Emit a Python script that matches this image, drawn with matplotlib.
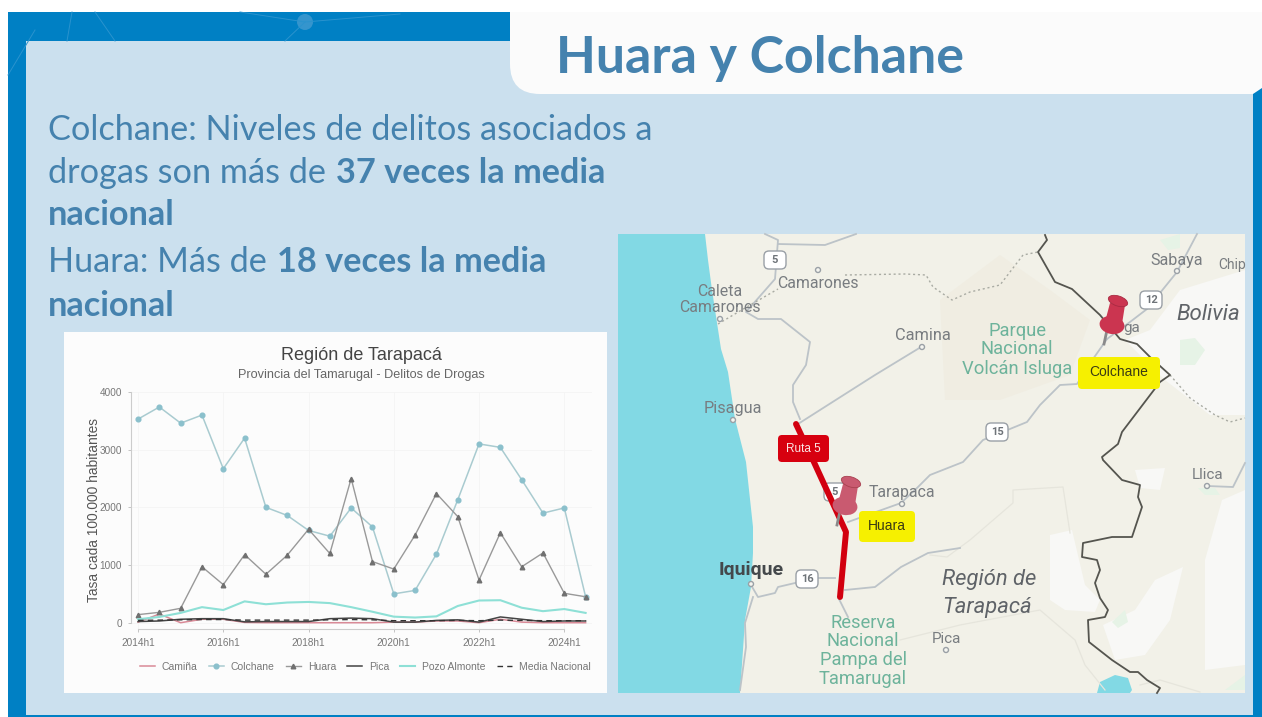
import numpy as np
import matplotlib
matplotlib.use("Agg")
import matplotlib.pyplot as plt
from matplotlib.patches import Rectangle, FancyBboxPatch, Polygon, Circle, Ellipse

# chart data (half years 2014h1 .. 2024h2)
periods = ["2014h1", "2014h2", "2015h1", "2015h2", "2016h1", "2016h2", "2017h1", "2017h2",
           "2018h1", "2018h2", "2019h1", "2019h2", "2020h1", "2020h2", "2021h1", "2021h2",
           "2022h1", "2022h2", "2023h1", "2023h2", "2024h1", "2024h2"]
tick_labels = ["2014h1", "2016h1", "2018h1", "2020h1", "2022h1", "2024h1"]
colchane = [3530, 3740, 3460, 3600, 2670, 3200, 2000, 1860, 1600, 1500, 1990,
            1660, 500, 560, 1190, 2130, 3100, 3040, 2480, 1900, 1990, 450]
huara = [140, 180, 250, 970, 660, 1180, 840, 1170, 1620, 1200, 2500,
         1060, 930, 1520, 2240, 1840, 740, 1560, 970, 1210, 510, 450]
pozo = [60, 100, 170, 270, 220, 370, 320, 350, 360, 340, 270,
        190, 105, 90, 110, 290, 385, 390, 260, 200, 237, 170]
pica = [20, 30, 60, 70, 70, 15, 20, 20, 20, 70, 80,
        70, 10, 10, 40, 50, 10, 100, 60, 20, 30, 30]
camina = [10, 150, 0, 60, 60, 5, 0, 0, 0, 0, 0, 0, 10, 10, 30, 30, 0, 60, 10, 0, 0, 0]
media = [40, 45, 50, 55, 55, 45, 45, 45, 45, 50, 55, 50, 35, 35, 35, 40, 35, 45, 40, 35, 35, 35]

# map shapes, in picture pixels
sea = [(618, 234), (705, 234), (708, 260), (712, 290), (721, 349), (728, 372), (735, 419), (746, 462),
       (753, 527), (753, 553), (751, 587), (745, 620), (743, 650), (740, 693), (618, 693)]
lake = [(1097, 693), (1100, 682), (1115, 675), (1128, 678), (1132, 690), (1130, 693)]
white_patches = [[(1125, 340), (1150, 330), (1180, 290), (1245, 270), (1245, 415), (1210, 415), (1165, 380)],
                 [(1050, 535), (1072, 530), (1085, 585), (1100, 600), (1095, 612), (1065, 610), (1050, 600)],
                 [(1103, 625), (1135, 610), (1155, 580), (1183, 567), (1170, 620), (1145, 655), (1115, 660)],
                 [(1205, 560), (1222, 500), (1245, 490), (1245, 665), (1205, 670)],
                 [(1135, 470), (1165, 468), (1160, 490), (1140, 488)]]
mint_patches = [[(1112, 622), (1125, 610), (1128, 622), (1118, 628)],
                [(1225, 690), (1245, 675), (1245, 690)],
                [(1180, 340), (1195, 338), (1205, 350), (1195, 365), (1180, 365)],
                [(1160, 240), (1180, 234), (1180, 248), (1168, 250)],
                [(1198, 488), (1215, 488), (1220, 495), (1205, 495)]]
tan_patch = [(940, 300), (1000, 255), (1050, 290), (1090, 320), (1070, 375), (1000, 400), (945, 400)]
border = [(1045, 235), (1047, 240), (1038, 252), (1055, 282), (1072, 289), (1100, 315), (1120, 339), (1137, 344),
          (1150, 357), (1170, 375), (1160, 382), (1122, 432), (1118, 444), (1102, 457), (1103, 460),
          (1122, 480), (1140, 485), (1138, 497), (1142, 507), (1132, 537), (1112, 537), (1083, 543),
          (1082, 557), (1097, 560), (1100, 570), (1095, 583), (1100, 598), (1108, 610), (1105, 617),
          (1088, 620), (1089, 642), (1112, 660), (1130, 672), (1138, 672), (1147, 680), (1160, 688), (1157, 693)]
border_dotted = [(1170, 375), (1190, 398), (1215, 415), (1230, 422), (1245, 418)]
region_dotted = [[(718, 324), (745, 308), (778, 289)],
                 [(845, 275), (905, 274), (926, 275), (933, 287), (952, 300), (970, 292), (1000, 285),
                  (1023, 255), (1038, 252)]]
roads = [[(765, 234), (778, 240), (775, 279), (746, 312), (758, 319), (781, 319), (810, 342), (806, 365),
          (793, 385), (793, 402), (800, 419)],
         [(798, 424), (875, 375), (921, 347)],
         [(778, 244), (825, 245), (856, 234)],
         [(1107, 339), (1093, 359), (1077, 384), (1060, 385), (1040, 405), (1027, 422), (983, 440), (963, 462),
          (930, 475), (918, 487), (901, 503), (848, 522)],
         [(1107, 339), (1130, 322), (1147, 309), (1177, 272), (1197, 234)],
         [(1245, 463), (1233, 487), (1207, 486)],
         [(751, 585), (758, 597), (775, 593), (778, 587), (795, 583), (818, 578), (835, 578)],
         [(753, 597), (745, 623), (746, 647), (740, 690)],
         [(845, 590), (875, 587), (901, 567), (928, 553), (960, 548)],
         [(838, 597), (848, 617)]]
faint_roads = [[(930, 555), (947, 557), (970, 540), (1013, 503), (1013, 490), (1063, 487), (1070, 533)],
               [(900, 640), (960, 625), (1040, 610), (1075, 640), (1085, 665), (1105, 690)],
               [(1140, 685), (1160, 680), (1200, 692)]]
ruta5 = [(796, 424), (813, 460), (846, 532), (840, 597)]

fig = plt.figure(figsize=(12.62, 7.17), dpi=100)
bg = fig.add_axes([0, 0, 1, 1])
bg.set_xlim(0, 1262)
bg.set_ylim(717, 0)
bg.axis("off")

# slide background
bg.add_patch(Rectangle((8, 12), 1254, 705, fc="#0080C4", ec="none"))
for seg in [[(67, 41), (72, 12)], [(115, 41), (95, 12)], [(305, 22), (240, 12)], [(305, 22), (285, 41)],
            [(8, 75), (35, 30)], [(305, 22), (400, 14)]]:
    xs, ys = zip(*seg)
    bg.plot(xs, ys, color="#2A93CE", lw=0.7)
bg.add_patch(Circle((305, 22), 8, fc="#3595CD", ec="none"))
bg.add_patch(Rectangle((26, 41), 1227, 674, fc="#CBE0EE", ec="none"))
bg.add_patch(FancyBboxPatch((510, -40), 790, 134, boxstyle="round,pad=0,rounding_size=30", fc="#FBFBFB", ec="none"))
bg.add_patch(Polygon([(1253, 94), (1262, 88), (1262, 94)], fc="#0080C4", ec="none"))
bg.add_patch(Rectangle((0, 0), 1262, 12, fc="white", ec="none"))

# headings
blue = "#4582AE"
bg.text(556, 58, "Huara y Colchane", fontsize=37.4, fontweight="bold", family="Lato", color=blue, va="center")
text_lines = [
    (48, 140, "Colchane: Niveles de delitos asociados a", "normal"),
    (48, 183, "drogas son más de", "normal"),
    (336, 183, "37 veces la media", "bold"),
    (48, 225, "nacional", "bold"),
    (48, 272, "Huara: Más de", "normal"),
    (277, 272, "18 veces la media", "bold"),
    (48, 316, "nacional", "bold"),
]
for x, y, s, w in text_lines:
    bg.text(x, y, s, fontsize=24.7, family="Lato", fontweight=w, color=blue, va="baseline")

# map
bg.add_patch(Rectangle((618, 234), 627, 459, fc="#F2F1E8", ec="none", zorder=2))
bg.add_patch(Polygon(tan_patch, fc="#F0EDE2", ec="none", zorder=2.05))
bg.add_patch(Polygon(sea, fc="#82D9E4", ec="none", zorder=2.1))
for p in white_patches:
    bg.add_patch(Polygon(p, fc="#F8F8F6", ec="none", zorder=2.1))
for p in mint_patches:
    bg.add_patch(Polygon(p, fc="#E6F3E6", ec="none", zorder=2.15))
bg.add_patch(Polygon(lake, fc="#82D9E4", ec="none", zorder=2.2))
for r in faint_roads:
    xs, ys = zip(*r)
    bg.plot(xs, ys, color="#E6E5DC", lw=0.9, zorder=2.4)
for r in roads:
    xs, ys = zip(*r)
    bg.plot(xs, ys, color="#BCC3C8", lw=1.3, zorder=2.5)
for r in region_dotted + [border_dotted]:
    xs, ys = zip(*r)
    bg.plot(xs, ys, color="#A9ABA3", lw=1, ls=(0, (1.5, 2)), zorder=2.5)
xs, ys = zip(*border)
bg.plot(xs, ys, color="#55554F", lw=1.3, zorder=2.6)

grey = "#787C80"
green = "#6DB39B"
map_labels = [
    (720, 291, "Caleta", grey, "normal", 11.4),
    (720, 307, "Camarones", grey, "normal", 11.4),
    (818, 283, "Camarones", grey, "normal", 11.4),
    (733, 409, "Pisagua", grey, "normal", 11.7),
    (923, 336, "Camina", grey, "normal", 11.8),
    (1017, 331, "Parque", green, "normal", 13.2),
    (1017, 349, "Nacional", green, "normal", 13.2),
    (1017, 369, "Volcán Isluga", green, "normal", 13.2),
    (1177, 260, "Sabaya", grey, "normal", 11.6),
    (1232, 265, "Chip", grey, "normal", 10),
    (1208, 315, "Bolivia", "#5F6368", "italic", 16),
    (1208, 475, "Llica", grey, "normal", 11),
    (902, 493, "Tarapaca", grey, "normal", 11.4),
    (751, 570, "Iquique", "#44484B", "bold", 14),
    (863, 623, "Reserva", green, "normal", 13.2),
    (863, 641, "Nacional", green, "normal", 13.2),
    (863, 660, "Pampa del", green, "normal", 13.2),
    (863, 679, "Tamarugal", green, "normal", 13.2),
    (989, 580, "Región de", "#5F6368", "italic", 15.8),
    (987, 608, "Tarapacá", "#5F6368", "italic", 15.8),
    (946, 639, "Pica", grey, "normal", 11),
    (1132, 328, "ga", grey, "normal", 11),
]
for x, y, s, c, kind, size in map_labels:
    bg.text(x, y, s, color=c, fontsize=size, family="Roboto", ha="center", va="center", zorder=3.2,
            fontstyle="italic" if kind == "italic" else "normal",
            fontweight="bold" if kind == "bold" else "normal")

# road shields
for x, y, s in [(775, 260, "5"), (997, 432, "15"), (1151, 300, "12"), (807, 579, "16"), (835, 492, "5")]:
    bg.add_patch(FancyBboxPatch((x - 11, y - 9), 22, 18, boxstyle="round,pad=0,rounding_size=5",
                                fc="white", ec="#9AA0A6", lw=1, zorder=2.8))
    bg.text(x, y, s, fontsize=8, fontweight="bold", family="Roboto", color="#6F7479", ha="center", va="center", zorder=2.9)

# place dots
for x, y in [(818, 270), (720, 319), (922, 347), (733, 420), (1177, 271), (1207, 486), (751, 584), (946, 650), (902, 504)]:
    bg.add_patch(Circle((x, y), 2.5, fc="#F5F5F0", ec="#9AA0A6", lw=1, zorder=3.1))

# red route and labels on the map
xs, ys = zip(*ruta5)
bg.plot(xs, ys, color="#D2000F", lw=4.3, zorder=3.3, solid_capstyle="round")
bg.add_patch(FancyBboxPatch((778, 435), 51, 27, boxstyle="round,pad=0,rounding_size=4", fc="#D7000F", ec="none", zorder=4))
bg.text(803, 449, "Ruta 5", fontsize=8.5, family="Liberation Sans", color="#FBE6E6", ha="center", va="center", zorder=4.1)
bg.add_patch(FancyBboxPatch((1078, 357), 82, 32, boxstyle="round,pad=0,rounding_size=4", fc="#F6F000", ec="none", zorder=4))
bg.text(1119, 372, "Colchane", fontsize=10, family="Liberation Sans", color="#3A3A14", ha="center", va="center", zorder=4.1)
bg.add_patch(FancyBboxPatch((859, 511), 56, 31, boxstyle="round,pad=0,rounding_size=4", fc="#F6F000", ec="none", zorder=4))
bg.text(887, 526, "Huara", fontsize=10, family="Liberation Sans", color="#3A3A14", ha="center", va="center", zorder=4.1)

# push pins
for dx, dy, c, edge in [(0, 0, "#CB3550", "#A82A42"), (-267, 181, "#C95A70", "#A8404F")]:
    bg.plot([1107 + dx, 1104 + dx], [330 + dy, 344 + dy], color="#8A8A8A", lw=2, zorder=4.2)
    bg.add_patch(Ellipse((1112 + dx, 325 + dy), 25, 18, angle=10, fc=c, ec="none", zorder=4.3))
    bg.add_patch(Polygon([(1110 + dx, 303 + dy), (1125 + dx, 305 + dy), (1122 + dx, 324 + dy), (1105 + dx, 322 + dy)],
                         fc=c, ec="none", zorder=4.3))
    bg.add_patch(Ellipse((1118 + dx, 301 + dy), 20, 10, angle=18, fc=c, ec=edge, lw=0.6, zorder=4.4))

# white card behind the chart
bg.add_patch(Rectangle((64, 332), 543, 361, fc="#FCFCFC", ec="none", zorder=2))
bg.text(361, 356, "Región de Tarapacá", fontsize=13, family="Liberation Sans", color="#444444", ha="center", va="center", zorder=3)
bg.text(361, 375, "Provincia del Tamarugal - Delitos de Drogas", fontsize=9.1, family="Liberation Sans",
        color="#666666", ha="center", va="center", zorder=3)

# chart, axes placed so 2014h1 sits at x=138 and 4000 at y=392
left, right, top, bottom = 131, 592, 392, 629
ax = fig.add_axes([left / 1262, 1 - bottom / 717, (right - left) / 1262, (bottom - top) / 717])
ax.patch.set_alpha(0)
x = np.arange(len(periods))
ax.set_xlim(-0.33, 21.3)
ax.set_ylim(-109, 4000)
ax.grid(True, color="#F4F4F4", lw=0.6)
ax.set_axisbelow(True)
ax.plot(x, camina, color="#D98A97", lw=1.1, label="Camiña")
ax.plot(x, colchane, color="#A9CBD0", lw=1.1, marker="o", ms=3.4, mfc="#8BC0CC", mec="#8BC0CC", label="Colchane")
ax.plot(x, huara, color="#999999", lw=1.0, marker="^", ms=3.3, mfc="#707070", mec="#707070", label="Huara")
ax.plot(x, pica, color="#444444", lw=1.1, label="Pica")
ax.plot(x, pozo, color="#8EE0D6", lw=1.5, label="Pozo Almonte")
ax.plot(x, media, color="#333333", lw=1.0, ls=(0, (4, 3)), label="Media Nacional")
ax.set_xticks(x[::4][:6])
ax.set_xticklabels(tick_labels, fontsize=7.2, color="#777777", family="Liberation Sans")
ax.set_yticks([0, 1000, 2000, 3000, 4000])
ax.set_yticklabels(["0", "1000", "2000", "3000", "4000"], fontsize=7.2, color="#777777", family="Liberation Sans")
ax.tick_params(length=2.5, width=0.6, color="#BBBBBB", pad=4)
ax.set_ylabel("Tasa cada 100.000 habitantes", fontsize=9.9, color="#555555", family="Liberation Sans", labelpad=-1)
for side in ["top", "right"]:
    ax.spines[side].set_visible(False)
ax.spines["left"].set_color("#CCCCCC")
ax.spines["bottom"].set_color("#CCCCCC")
ax.spines["left"].set_bounds(0, 4000)
ax.spines["bottom"].set_bounds(0, 20)
ax.legend(loc="center", bbox_to_anchor=(0.508, -0.16), ncol=6, frameon=False, columnspacing=1.05,
          handlelength=1.45, handletextpad=0.67,
          prop={"family": "Liberation Sans", "size": 7.5}, labelcolor="#777777")

fig.savefig("out.png", dpi=100)
